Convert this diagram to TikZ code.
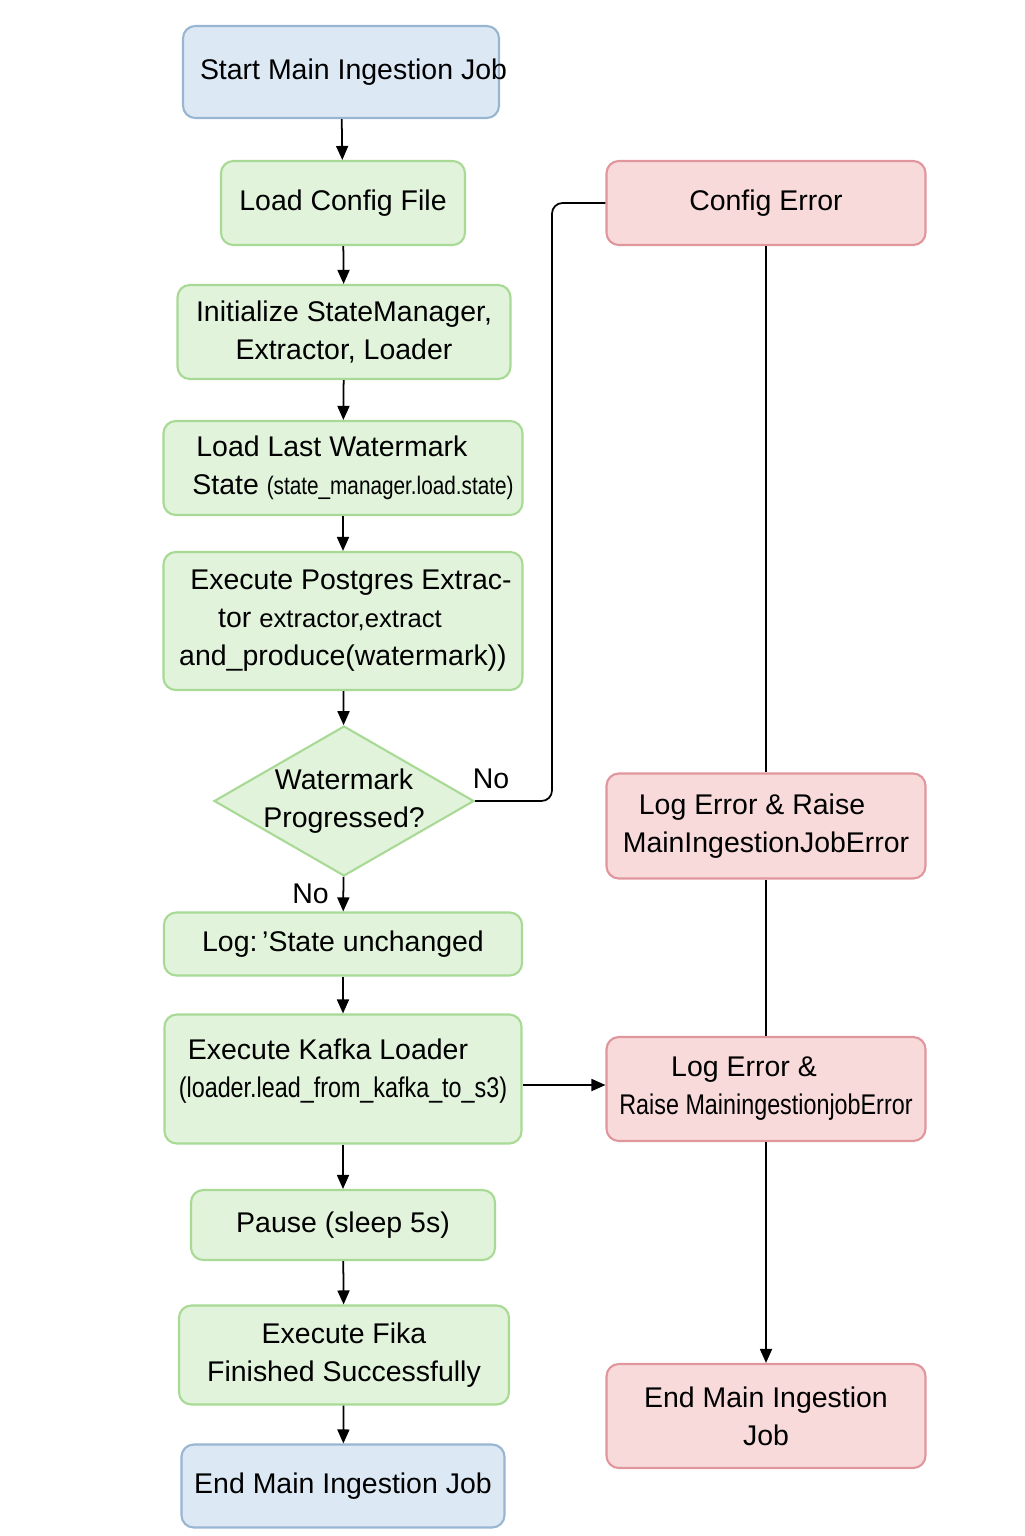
\documentclass[tikz,border=0pt]{standalone}
\usepackage{xcolor}
\usepackage{fontspec}
\setmainfont{Liberation Sans}
\newfontfamily\narrowfont[FakeStretch=0.82]{Liberation Sans}
\usetikzlibrary{shapes.geometric,arrows.meta}

\definecolor{bluefill}{HTML}{DCE9F5}
\definecolor{blueline}{HTML}{98B6D2}
\definecolor{greenfill}{HTML}{E1F3DB}
\definecolor{greenline}{HTML}{A8DA95}
\definecolor{redfill}{HTML}{F8DADB}
\definecolor{redline}{HTML}{E0969C}

\begin{document}
\begin{tikzpicture}[
		font=\fontsize{8.1}{10.8}\selectfont,
		stepbox/.style={draw=greenline, fill=greenfill, line width=0.6pt, rounded corners=3.5pt, align=center, inner sep=0pt},
		termbox/.style={stepbox, draw=blueline, fill=bluefill},
		errbox/.style={stepbox, draw=redline, fill=redfill},
		decision/.style={diamond, draw=greenline, fill=greenfill, line width=0.6pt, inner sep=0pt, minimum width=2.6cm, minimum height=1.5cm},
		flow/.style={line width=0.5pt, -{Triangle[length=1.4mm,width=1.2mm]}},
		wire/.style={line width=0.5pt}
	]
	\useasboundingbox (0,0) rectangle (10.24,-15.36);
	
	% main column
	\node[termbox, minimum width=3.16cm, minimum height=0.92cm] (start) at (3.41,-0.72) {\makebox[3.16cm][l]{\hspace*{0.17cm}Start Main Ingestion Job}};
	\node[stepbox, minimum width=2.44cm, minimum height=0.84cm] (loadcfg) at (3.43,-2.03) {Load Config File};
	\node[stepbox, minimum width=3.33cm, minimum height=0.94cm] (init) at (3.44,-3.32) {Initialize StateManager,\\Extractor, Loader};
	\node[stepbox, minimum width=3.59cm, minimum height=0.94cm, align=left] (wmark) at (3.43,-4.68) {\hspace*{0.24cm}Load Last Watermark\\\hspace*{0.2cm}State {\narrowfont\fontsize{7.2}{10.8}\selectfont (state\_manager.load.state)}};
	\node[stepbox, minimum width=3.59cm, minimum height=1.38cm] (extract) at (3.43,-6.21) {\hspace*{0.16cm}Execute Postgres Extrac-\\tor {\fontsize{7.3}{10.8}\selectfont extractor,extract}\hspace*{0.26cm}\mbox{}\\and\_produce(watermark))};
	\node[decision] (prog) at (3.44,-8.01) {};
	\node[align=center] (progtxt) at (prog) {Watermark\\Progressed?};
	\node[stepbox, minimum width=3.58cm, minimum height=0.63cm] (logstate) at (3.43,-9.44) {Log:\,'State unchanged};
	\node[stepbox, minimum width=3.57cm, minimum height=1.29cm, text depth=0.22cm] (kafka) at (3.43,-10.79) {Execute Kafka Loader\hspace*{0.3cm}\\{\narrowfont(loader.lead\_from\_kafka\_to\_s3)}};
	\node[stepbox, minimum width=3.04cm, minimum height=0.70cm] (pause) at (3.43,-12.25) {Pause (sleep 5s)};
	\node[stepbox, minimum width=3.30cm, minimum height=0.99cm] (fika) at (3.44,-13.55) {Execute Fika\\Finished Successfully};
	\node[termbox, minimum width=3.23cm, minimum height=0.83cm] (finish) at (3.43,-14.86) {End Main Ingestion Job};
	
	% error column
	\node[errbox, minimum width=3.19cm, minimum height=0.84cm] (cfgerr) at (7.66,-2.03) {Config Error};
	\node[errbox, minimum width=3.19cm, minimum height=1.05cm] (logerr) at (7.66,-8.26) {Log Error \& Raise\hspace*{0.28cm}\\MainIngestionJobError};
	\node[errbox, minimum width=3.19cm, minimum height=1.04cm] (kafkaerr) at (7.66,-10.89) {Log Error \&\hspace*{0.44cm}\\{\narrowfont Raise MainingestionjobError}};
	\node[errbox, minimum width=3.19cm, minimum height=1.04cm] (errend) at (7.66,-14.16) {End Main Ingestion\\Job};
	
	\draw[flow] (start) -- (loadcfg);
	\draw[flow] (loadcfg) -- (init);
	\draw[flow] (init) -- (wmark);
	\draw[flow] (wmark) -- (extract);
	\draw[flow] (extract) -- (prog);
	\draw[flow] (prog) -- node[left, xshift=-0.02cm] {No} (logstate);
	\draw[flow] (logstate) -- (kafka);
	\draw[flow] (kafka) -- (pause);
	\draw[flow] (pause) -- (fika);
	\draw[flow] (fika) -- (finish);
	
	\coordinate (bend) at (5.52,-2.03);
	\draw[wire, rounded corners=3pt] (prog.east) -| (bend) -- (cfgerr.west);
	\node (nolabel) at (4.91,-7.79) {No};
	
	\draw[wire] (cfgerr) -- (logerr);
	\draw[wire] (logerr) -- (kafkaerr);
	\draw[flow] (kafkaerr) -- (errend);
	\draw[flow] ([yshift=-0.06cm]kafka.east) -- ([yshift=-0.06cm]kafka.east -| kafkaerr.west);
\end{tikzpicture}
\end{document}
